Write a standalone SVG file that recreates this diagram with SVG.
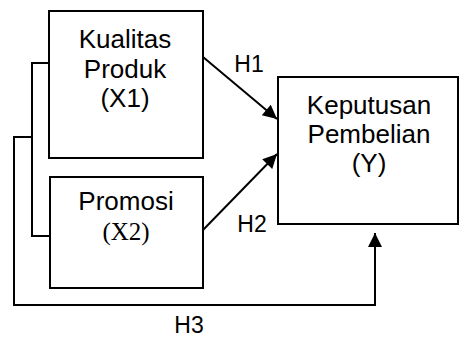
<svg xmlns="http://www.w3.org/2000/svg" width="460" height="338" viewBox="0 0 460 338">
<style>
.box{fill:#fff;stroke:#000;stroke-width:2}
.t{font-family:"Liberation Sans",Arial,sans-serif;font-size:26px;fill:#000;text-anchor:middle}
.l{font-family:"Liberation Sans",Arial,sans-serif;font-size:23px;fill:#000;text-anchor:middle}
.tr{font-family:"Liberation Serif","Times New Roman",serif;font-size:25px;fill:#000;text-anchor:middle}
.c{fill:none;stroke:#000;stroke-width:2}
</style>
<defs>
<marker id="ah" viewBox="0 0 10 10" refX="10" refY="5" markerWidth="8" markerHeight="7" markerUnits="strokeWidth" orient="auto">
<path d="M0,0 L10,5 L0,10 z" fill="#000"/>
</marker>
</defs>
<rect width="460" height="338" fill="#fff"/>
<g id="connectors">
<polyline class="c" points="49,63 32,63 32,236 50,236"/>
<polyline class="c" points="32,137 14,137 14,305 375,305 375,233" marker-end="url(#ah)"/>
<line class="c" x1="203" y1="57" x2="277" y2="119" marker-end="url(#ah)"/>
<line class="c" x1="203" y1="230" x2="277" y2="154" marker-end="url(#ah)"/>
<text class="l" x="249" y="72">H1</text>
<text class="l" x="252" y="232">H2</text>
<text class="l" x="189" y="333">H3</text>
</g>
<g id="x1">
<rect class="box" x="49" y="11" width="154" height="147"/>
<text class="t" x="125" y="48">Kualitas</text>
<text class="t" x="125" y="78">Produk</text>
<text class="t" x="125" y="107">(X1)</text>
</g>
<g id="x2">
<rect class="box" x="50" y="177" width="153" height="111"/>
<text class="t" x="126" y="210">Promosi</text>
<text class="tr" x="126" y="240">(X2)</text>
</g>
<g id="y">
<rect class="box" x="278" y="77" width="180" height="147"/>
<text class="t" x="369" y="114">Keputusan</text>
<text class="t" x="369" y="143">Pembelian</text>
<text class="t" x="369" y="172">(Y)</text>
</g>
</svg>
